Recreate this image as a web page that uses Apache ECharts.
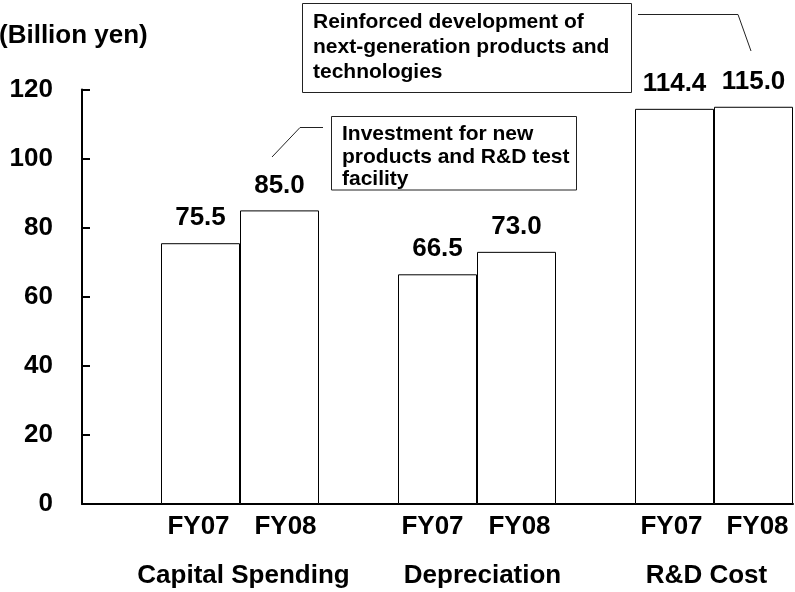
<!DOCTYPE html>
<html>
<head>
<meta charset="utf-8">
<script src="https://cdn.jsdelivr.net/npm/echarts@6/dist/echarts.min.js"></script>
<style>
  html, body { margin: 0; padding: 0; background: #fff; }
  #chart { width: 795px; height: 592px; }
</style>
</head>
<body>
<div id="chart"></div>
<script>
// Chart data
const categories = ['Capital Spending', 'Depreciation', 'R&D Cost'];
const fy07 = [75.5, 66.5, 114.4];
const fy08 = [85.0, 73.0, 115.0];
const slotLabels = ['', 'FY07', 'FY08', '', 'FY07', 'FY08', '', 'FY07', 'FY08'];
const spacer = [null, null, null];
const yMin = 0, yMax = 120, yStep = 20;

// Small horizontal nudges of the bottom labels (px), as in the original slide
const groupShift = [43, 45, 32];
const slotShift = [0, -2, 6, 0, -5, 3, 0, -3, 4];

const FONT = 'Liberation Sans, Arial, Helvetica, sans-serif';
const bold = { fontFamily: FONT, fontWeight: 'bold', color: '#000' };

// Shift a centred label by d px through asymmetric padding
function shifted(name, d) {
    return {
        value: name,
        textStyle: { padding: d >= 0 ? [0, 0, 0, 2 * d] : [0, -2 * d, 0, 0] }
    };
}

var chart = echarts.init(document.getElementById('chart'));

function barSeries(name, data) {
    return {
        name: name,
        type: 'bar',
        xAxisIndex: 0,
        data: data,
        barGap: '0%',
        barCategoryGap: '0%',
        itemStyle: {
            color: '#fff',
            borderColor: '#000',
            borderWidth: 1
        },
        label: {
            show: true,
            position: 'top',
            distance: 12,
            fontFamily: FONT,
            fontWeight: 'bold',
            fontSize: 26,
            color: '#000',
            formatter: function (p) {
                return p.value.toFixed(1);
            }
        },
        silent: true
    };
}

chart.setOption({
    animation: false,
    grid: {
        left: 82,
        right: 2,
        top: 89.5,
        bottom: 88
    },
    xAxis: [{
        type: 'category',
        position: 'bottom',
        data: categories.map((c, i) => shifted(c, groupShift[i])),
        axisLine: { show: true, lineStyle: { color: '#000', width: 2 } },
        axisTick: { show: false },
        axisLabel: Object.assign({
            fontSize: 26,
            margin: 59,
            interval: 0
        }, bold),
        splitLine: { show: false }
    }, {
        type: 'category',
        position: 'bottom',
        gridIndex: 0,
        data: slotLabels.map((s, i) => shifted(s, slotShift[i])),
        axisLine: { show: false },
        axisTick: { show: false },
        axisLabel: Object.assign({
            fontSize: 26,
            margin: 10,
            interval: 0
        }, bold),
        splitLine: { show: false }
    }],
    yAxis: {
        type: 'value',
        min: yMin,
        max: yMax,
        interval: yStep,
        axisLine: { show: true, lineStyle: { color: '#000', width: 2 } },
        axisTick: { show: true, inside: true, length: 8, lineStyle: { color: '#000', width: 2 } },
        axisLabel: Object.assign({ fontSize: 26, margin: 29 }, bold),
        splitLine: { show: false }
    },
    series: [
        { name: 'spacer', type: 'bar', data: spacer, barGap: '0%', barCategoryGap: '0%', silent: true },
        barSeries('FY07', fy07),
        barSeries('FY08', fy08)
    ],
    graphic: [
        // Unit label
        {
            type: 'text',
            style: {
                text: '(Billion yen)',
                x: -1, y: 36,
                font: 'bold 26px ' + FONT,
                fill: '#000',
                align: 'left', textAlign: 'left',
                verticalAlign: 'middle', textVerticalAlign: 'middle'
            }
        },
        // Annotation for R&D
        {
            type: 'rect',
            shape: { x: 302.5, y: 3.5, width: 329, height: 89 },
            style: { fill: '#fff', stroke: '#222', lineWidth: 1 }
        },
        {
            type: 'text',
            style: {
                text: 'Reinforced development of\nnext-generation products and\ntechnologies',
                x: 313, y: 10,
                font: 'bold 21px ' + FONT,
                lineHeight: 25,
                fill: '#000',
                align: 'left', textAlign: 'left',
                verticalAlign: 'top', textVerticalAlign: 'top'
            }
        },
        {
            type: 'polyline',
            shape: { points: [[638, 14.5], [738, 14.5], [751, 51]] },
            style: { stroke: '#222', lineWidth: 1, fill: null }
        },
        // Annotation for capital spending
        {
            type: 'rect',
            shape: { x: 331.5, y: 116.5, width: 245, height: 73.5 },
            style: { fill: '#fff', stroke: '#222', lineWidth: 1 }
        },
        {
            type: 'text',
            style: {
                text: 'Investment for new\nproducts and R&D test\nfacility',
                x: 342, y: 123.25,
                font: 'bold 21px ' + FONT,
                lineHeight: 22.5,
                fill: '#000',
                align: 'left', textAlign: 'left',
                verticalAlign: 'top', textVerticalAlign: 'top'
            }
        },
        {
            type: 'polyline',
            shape: { points: [[323, 127.5], [300, 127.5], [272, 157]] },
            style: { stroke: '#222', lineWidth: 1, fill: null }
        }
    ]
});

window.addEventListener('resize', () => {
    chart.resize();
});
</script>
</body>
</html>
